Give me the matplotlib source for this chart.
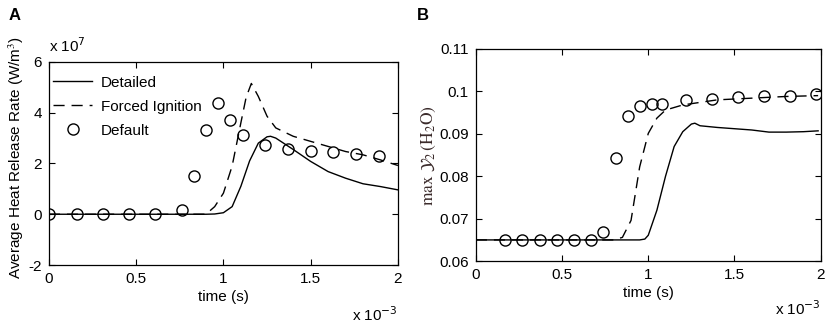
import numpy as np
import matplotlib
matplotlib.use("Agg")
import matplotlib.pyplot as plt
from matplotlib.ticker import FuncFormatter

plt.rcParams['font.family'] = ['Liberation Sans', 'DejaVu Sans']
plt.rcParams['mathtext.fontset'] = 'stix'
plt.rcParams['font.size'] = 11

# --- panel A: average heat release rate (x 1e-3 s, x 1e7 W/m^3) ---
a_det_t = [0, 0.9, 0.95, 1.0, 1.05, 1.1, 1.15, 1.2, 1.25, 1.27, 1.3, 1.4, 1.5, 1.6, 1.7, 1.8, 1.9, 2.0]
a_det_q = [0, 0, 0.01, 0.06, 0.3, 1.1, 2.1, 2.8, 3.05, 3.07, 3.0, 2.55, 2.08, 1.68, 1.42, 1.2, 1.09, 0.96]
a_frc_t = [0, 0.9, 0.95, 1.0, 1.05, 1.1, 1.13, 1.16, 1.2, 1.25, 1.3, 1.4, 1.5, 1.6, 1.7, 1.8, 1.9, 2.0]
a_frc_q = [0, 0, 0.3, 0.83, 1.9, 3.6, 4.6, 5.15, 4.64, 3.86, 3.4, 3.07, 2.87, 2.67, 2.47, 2.34, 2.14, 1.92]
a_def_t = [0, 0.16, 0.31, 0.46, 0.61, 0.76, 0.83, 0.90, 0.97, 1.04, 1.11, 1.24, 1.37, 1.50, 1.63, 1.76, 1.89]
a_def_q = [0, 0, 0, 0, 0, 0.15, 1.49, 3.3, 4.37, 3.7, 3.13, 2.71, 2.58, 2.51, 2.45, 2.37, 2.28]

# --- panel B: max Y (H2O) ---
b_det_t = [0, 0.9, 0.95, 0.98, 1.0, 1.05, 1.1, 1.15, 1.2, 1.25, 1.27, 1.3, 1.4, 1.5, 1.6, 1.7, 1.8, 1.9, 1.985]
b_det_y = [0.065, 0.065, 0.065, 0.0652, 0.0661, 0.072, 0.080, 0.087, 0.0905, 0.0923, 0.0925, 0.0919,
           0.0915, 0.0912, 0.0909, 0.0904, 0.0904, 0.0905, 0.0907]
b_frc_t = [0, 0.8, 0.85, 0.9, 0.95, 1.0, 1.05, 1.1, 1.2, 1.4, 1.6, 1.8, 1.985]
b_frc_y = [0.065, 0.065, 0.0656, 0.0696, 0.0822, 0.0901, 0.0937, 0.0956, 0.0968, 0.098, 0.0984, 0.0988, 0.099]
b_def_t = [0.17, 0.27, 0.37, 0.47, 0.57, 0.67, 0.74, 0.81, 0.88, 0.95, 1.02, 1.08, 1.22, 1.37, 1.52, 1.67, 1.82, 1.97]
b_def_y = [0.065, 0.065, 0.065, 0.065, 0.065, 0.065, 0.0669, 0.0844, 0.0941, 0.0966, 0.0970, 0.0970,
           0.0979, 0.0983, 0.0986, 0.0988, 0.0990, 0.0993]

ms = 1e-3
fig = plt.figure(figsize=(8.29, 3.24), dpi=100)
axA = fig.add_axes([0.059, 0.182, 0.421, 0.627])
axB = fig.add_axes([0.574, 0.194, 0.416, 0.655])

mk = dict(ls='none', marker='o', ms=8, mfc='none', mec='black', mew=1.0)

axA.plot(np.array(a_det_t) * ms, np.array(a_det_q) * 1e7, 'k-', lw=1, label='Detailed')
axA.plot(np.array(a_frc_t) * ms, np.array(a_frc_q) * 1e7, 'k--', lw=1, dashes=(8, 5), label='Forced Ignition')
axA.plot(np.array(a_def_t) * ms, np.array(a_def_q) * 1e7, label='Default', **mk)
axA.set_xlim(0, 2e-3)
axA.set_ylim(-2e7, 6e7)
axA.set_xticks(np.arange(0, 2.01e-3, 0.5e-3))
axA.set_yticks(np.arange(-2e7, 6.01e7, 2e7))
axA.xaxis.set_major_formatter(FuncFormatter(lambda v, p: '%g' % round(v / ms, 3)))
axA.yaxis.set_major_formatter(FuncFormatter(lambda v, p: '%g' % round(v / 1e7, 3)))
axA.set_xlabel('time (s)', labelpad=3)
axA.set_ylabel('Average Heat Release Rate (W/m$^3$)')
axA.yaxis.set_label_coords(-0.066, 0.53)
axA.legend(loc='upper left', bbox_to_anchor=(0.0, 0.955), frameon=False, handlelength=2.5,
           borderaxespad=0.2, handletextpad=0.6, labelspacing=0.66, borderpad=0.1)
axA.text(0.0, 1.035, r'x 10$^{7}$', transform=axA.transAxes, ha='left', va='bottom',
         fontsize=11, math_fontfamily='dejavusans')
axA.text(1.0, -0.2, r'x 10$^{-3}$', transform=axA.transAxes, ha='right', va='top',
         fontsize=11, math_fontfamily='dejavusans')

axB.plot(np.array(b_det_t) * ms, b_det_y, 'k-', lw=1)
axB.plot(np.array(b_frc_t) * ms, b_frc_y, 'k--', lw=1, dashes=(8, 5))
axB.plot(np.array(b_def_t) * ms, b_def_y, **mk)
axB.set_xlim(0, 2e-3)
axB.set_ylim(0.06, 0.11)
axB.set_xticks(np.arange(0, 2.01e-3, 0.5e-3))
axB.set_yticks(np.arange(0.06, 0.1101, 0.01))
axB.xaxis.set_major_formatter(FuncFormatter(lambda v, p: '%g' % round(v / ms, 3)))
axB.yaxis.set_major_formatter(FuncFormatter(lambda v, p: '%g' % round(v, 3)))
axB.set_xlabel('time (s)', labelpad=3)
axB.set_ylabel(r'$\mathrm{max}\ \mathcal{Y}_2\,(\mathrm{H_2O})$', labelpad=1, color='#3a2a2a',
               fontsize=12.5)
axB.text(1.0, -0.18, r'x 10$^{-3}$', transform=axB.transAxes, ha='right', va='top',
         fontsize=11, math_fontfamily='dejavusans')

for ax in (axA, axB):
    ax.tick_params(direction='in', top=True, right=True, length=4, width=0.8, pad=5)
    for s in ax.spines.values():
        s.set_linewidth(0.9)

fig.text(0.010, 0.975, 'A', fontsize=12, fontweight='bold', va='top')
fig.text(0.503, 0.975, 'B', fontsize=12, fontweight='bold', va='top')

fig.savefig('out.png', dpi=100)
